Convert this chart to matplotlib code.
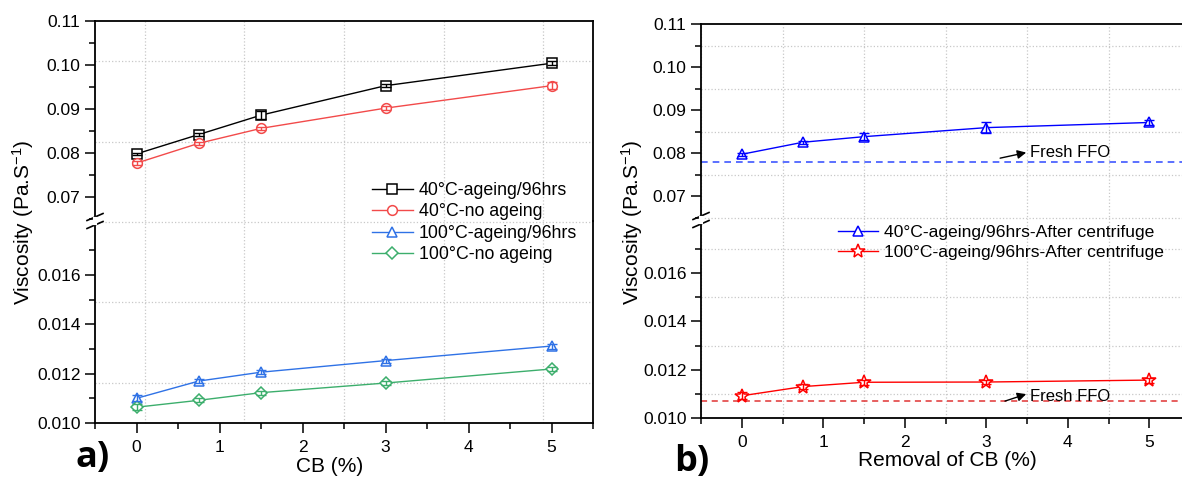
import matplotlib
matplotlib.use('Agg')
import matplotlib.pyplot as plt
from matplotlib.lines import Line2D
from matplotlib.ticker import FixedLocator, MultipleLocator, FormatStrFormatter

plt.rcParams['font.family'] = ['Liberation Sans', 'DejaVu Sans']
plt.rcParams['mathtext.fontset'] = 'custom'
plt.rcParams['mathtext.rm'] = 'Liberation Sans'
plt.rcParams['mathtext.it'] = 'Liberation Sans:italic'

# ---- data ----
cb = [0, 0.75, 1.5, 3, 5]

a_40_ageing = [0.0798, 0.0842, 0.0886, 0.0953, 0.1004]
a_40_ageing_err = [0.0003, 0.0003, 0.0009, 0.0004, 0.0004]
a_40_no = [0.0777, 0.0822, 0.0856, 0.0902, 0.0953]
a_40_no_err = [0.0004, 0.0004, 0.0004, 0.0004, 0.0008]
a_100_ageing = [0.01100, 0.01170, 0.01206, 0.01253, 0.01312]
a_100_ageing_err = [0.00012, 0.00008, 0.00008, 0.00008, 0.0001]
a_100_no = [0.01064, 0.01092, 0.01123, 0.01162, 0.01219]
a_100_no_err = [0.00012, 0.00008, 0.00008, 0.00008, 0.0001]

b_40_centr = [0.0797, 0.0825, 0.0838, 0.0859, 0.0871]
b_40_centr_err = [0.0003, 0.0003, 0.0008, 0.0012, 0.0005]
b_100_centr = [0.01092, 0.01130, 0.01148, 0.01149, 0.01157]
b_100_centr_err = [0.00015, 0.0001, 0.0001, 0.0001, 0.0001]

fresh_40 = 0.0778
fresh_100 = 0.01069

W, H = 1182, 479
fig = plt.figure(figsize=(W / 100, H / 100), dpi=100)


def fx(p):
    return p / W


def fy(p):
    return 1 - p / H


def make_panel(left, right, top, brk, bottom, top_lim, bot_lim):
    w = fx(right) - fx(left)
    ax_t = fig.add_axes([fx(left), fy(brk), w, fy(top) - fy(brk)])
    ax_b = fig.add_axes([fx(left), fy(bottom), w, fy(brk) - fy(bottom)])
    for ax in (ax_t, ax_b):
        ax.set_facecolor('none')
        ax.set_xlim(-0.5, 5.5)
        for s in ax.spines.values():
            s.set_linewidth(1.3)
        ax.tick_params(which='major', direction='out', length=7, width=1.1, labelsize=12.5)
        ax.tick_params(which='minor', direction='out', length=4, width=1.1)
        ax.xaxis.set_minor_locator(MultipleLocator(0.5))
    ax_t.spines['bottom'].set_visible(False)
    ax_b.spines['top'].set_visible(False)
    ax_t.tick_params(axis='x', which='both', bottom=False, labelbottom=False)
    ax_t.set_ylim(*top_lim)
    ax_b.set_ylim(*bot_lim)
    ax_t.yaxis.set_major_locator(FixedLocator([0.07, 0.08, 0.09, 0.10, 0.11]))
    ax_t.yaxis.set_minor_locator(FixedLocator([0.065, 0.075, 0.085, 0.095, 0.105]))
    ax_t.yaxis.set_major_formatter(FormatStrFormatter('%.2f'))
    ax_b.yaxis.set_major_locator(FixedLocator([0.010, 0.012, 0.014, 0.016]))
    ax_b.yaxis.set_minor_locator(FixedLocator([0.011, 0.013, 0.015, 0.017]))
    ax_b.yaxis.set_major_formatter(FormatStrFormatter('%.3f'))
    ax_b.set_xticks([0, 1, 2, 3, 4, 5])
    ax_b.tick_params(axis='x', pad=5)

    # break marks on the left spine
    for dy in (-4, 4):
        fig.add_artist(Line2D([fx(left - 8), fx(left + 8)],
                              [fy(brk + dy + 3.5), fy(brk + dy - 3.5)],
                              color='black', lw=1.2))
    fig.add_artist(Line2D([fx(left), fx(left)], [fy(brk + 2), fy(brk - 2)],
                          color='white', lw=3))
    return ax_t, ax_b


def series(ax, y, err, color, marker, label, ms=7):
    ln, = ax.plot(cb, y, color=color, marker=marker, mfc='white', mec=color,
                  ms=ms, mew=1.1, lw=1, zorder=3, label=label)
    ax.errorbar(cb, y, yerr=err, fmt='none', ecolor=color, elinewidth=1,
                capsize=3.5, capthick=1, zorder=4)
    return ln


grid_kw = dict(color='#c8c8c8', lw=0.9, ls=':')
arrow_kw = dict(arrowstyle='-|>', color='black', lw=1, mutation_scale=13,
                shrinkA=0, shrinkB=0)

# ---- panel a ----
a_top, a_bot = make_panel(95, 593, 21, 221, 423, (0.06455, 0.11), (0.010, 0.01819))
bg = fig.add_axes([fx(95), fy(423), fx(593) - fx(95), fy(21) - fy(423)], zorder=-1)
bg.set_xlim(0, 1)
bg.set_ylim(0, 1)
bg.set_axis_off()
for f in [0.1, 0.3, 0.5, 0.7, 0.9]:
    bg.axhline(f, **grid_kw)
    bg.axvline(f, **grid_kw)

h1 = series(a_top, a_40_ageing, a_40_ageing_err, 'black', 's', '40°C-ageing/96hrs', ms=6.5)
h2 = series(a_top, a_40_no, a_40_no_err, '#f24a4a', 'o', '40°C-no ageing')
h3 = series(a_bot, a_100_ageing, a_100_ageing_err, '#2f72e6', '^', '100°C-ageing/96hrs')
h4 = series(a_bot, a_100_no, a_100_no_err, '#3cae6c', 'D', '100°C-no ageing', ms=6)

fig.legend(handles=[h1, h2, h3, h4], loc='upper left',
           bbox_to_anchor=(fx(372), fy(182)), frameon=False, fontsize=12.8,
           handlelength=2.3, handletextpad=0.35, labelspacing=0.25,
           borderpad=0, borderaxespad=0)

fig.text(fx(23), fy(222), 'Viscosity (Pa.S$^{-1}$)', rotation=90,
         ha='center', va='center', fontsize=15)
fig.text(fx(330), fy(466), 'CB (%)', ha='center', va='center', fontsize=15)
fig.text(fx(93), fy(458), 'a)', ha='center', va='center', fontsize=26,
         fontweight='bold', family=['Open Sans', 'DejaVu Sans'])

# ---- panel b ----
b_top, b_bot = make_panel(701, 1190, 24, 220, 418, (0.06442, 0.11), (0.010, 0.0182))
for ax in (b_top, b_bot):
    ax.grid(which='minor', **grid_kw)
    ax.set_axisbelow(True)

k1 = series(b_top, b_40_centr, b_40_centr_err, '#0000ff', '^', '40°C-ageing/96hrs-After centrifuge')
k2 = series(b_bot, b_100_centr, b_100_centr_err, '#ff0000', '*', '100°C-ageing/96hrs-After centrifuge', ms=10)

b_top.axhline(fresh_40, color='#4058ff', lw=1.2, ls=(0, (4, 3)), zorder=2)
b_bot.axhline(fresh_100, color='#e03434', lw=1.1, ls=(0, (4, 3)), zorder=2)

b_top.annotate('', xy=(3.49, fresh_40 + 0.0023), xytext=(3.17, fresh_40 + 0.0010),
               arrowprops=arrow_kw)
b_top.text(3.54, fresh_40 + 0.0024, 'Fresh FFO', fontsize=12, va='center', ha='left')
b_bot.annotate('', xy=(3.49, fresh_100 + 0.00030), xytext=(3.23, fresh_100 + 0.00001),
               arrowprops=arrow_kw)
b_bot.text(3.54, fresh_100 + 0.00022, 'Fresh FFO', fontsize=12, va='center', ha='left')

fig.legend(handles=[k1, k2], loc='upper left',
           bbox_to_anchor=(fx(838), fy(225)), frameon=False, fontsize=12.6,
           handlelength=2.3, handletextpad=0.35, labelspacing=0.25,
           borderpad=0, borderaxespad=0)

fig.text(fx(632), fy(222), 'Viscosity (Pa.S$^{-1}$)', rotation=90,
         ha='center', va='center', fontsize=15)
fig.text(fx(947), fy(461), 'Removal of CB (%)', ha='center', va='center', fontsize=15)
fig.text(fx(692), fy(462), 'b)', ha='center', va='center', fontsize=26,
         fontweight='bold', family=['Open Sans', 'DejaVu Sans'])

fig.savefig('out.png', dpi=100)
